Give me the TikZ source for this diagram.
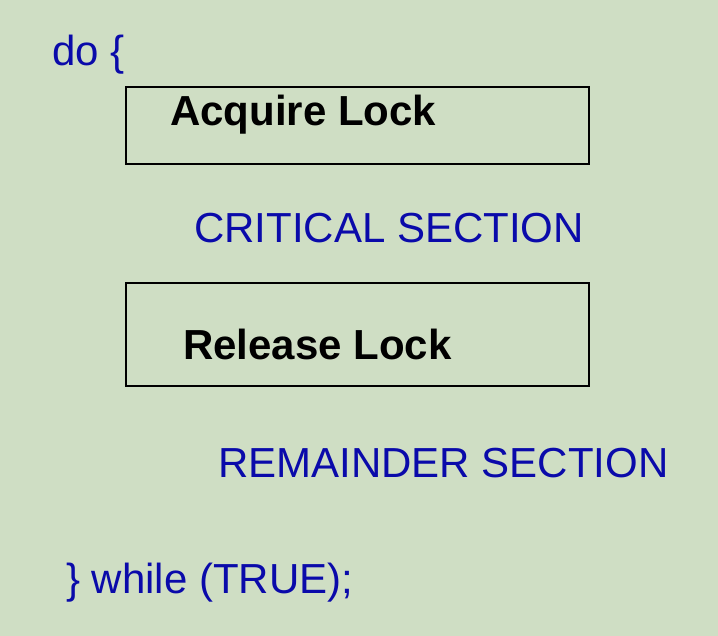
\documentclass[tikz,border=0pt]{standalone}
\usepackage{fontspec}
\setmainfont{Liberation Sans}
\definecolor{bgcol}{RGB}{207,222,196}
\definecolor{codeblue}{RGB}{10,10,170}
\tikzset{
  big/.style={font=\fontsize{42}{50}\selectfont, inner sep=0pt, anchor=base west},
  bluetxt/.style={big, text=codeblue},
  locktxt/.style={big, font=\fontsize{42}{50}\selectfont\bfseries, text=black},
  lockbox/.style={draw=black, line width=2pt, anchor=north west, minimum width=463pt, inner sep=0pt}
}
\begin{document}
\begin{tikzpicture}[x=1pt,y=-1pt]
  \fill[bgcol] (0,0) rectangle (718,636);
  \useasboundingbox (0,0) rectangle (718,636);
  \node[bluetxt] (do) at (52,66) {do \{};
  \node[lockbox, minimum height=77pt] (acqbox) at (125,86) {};
  \node[locktxt] (acq) at (170,126) {Acquire Lock};
  \node[bluetxt] (crit) at (194,243) {CRITICAL SECTION};
  \node[lockbox, minimum height=103pt] (relbox) at (125,282) {};
  \node[locktxt] (rel) at (183,360) {Release Lock};
  \node[bluetxt] (rem) at (218,477) {REMAINDER SECTION};
  \node[bluetxt] (wh) at (66,593) {\} while (TRUE);};
\end{tikzpicture}
\end{document}
